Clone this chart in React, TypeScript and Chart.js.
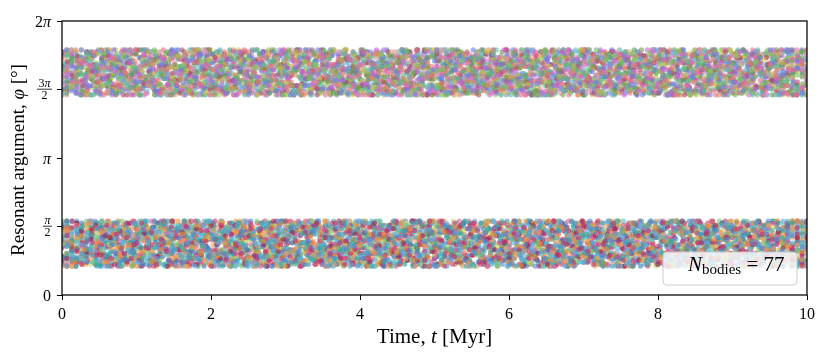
import React, { useEffect, useRef } from "react";
import { Chart, registerables } from "chart.js";

Chart.register(...registerables);

// ---- axis data ----
const X_TICKS = [0, 2, 4, 6, 8, 10];
const Y_TICK_DEG = [0, 90, 180, 270, 360];
const Y_TICK_NUMERATORS = ["0", "π", "π", "3π", "2π"];
const Y_TICK_DENOMINATORS = ["", "2", "", "2", ""];
const T_START = 0;
const T_END = 10;
const N_BODIES = 77;

// ---- sampled resonant argument of each body: one letter per output, read as an offset (deg) from the band centre ----
const LEVEL_CHARS = "abcdefghijklmnopqrstuvwxyz";
const LEVEL_OFFSETS_DEG = [
  -29.5, -27, -24.15, -21.85, -19.55, -17.25, -14.95, -12.65, -10.35, -8.05, -5.75, -3.45, -1.15,
  1.15, 3.45, 5.75, 8.05, 10.35, 12.65, 14.95, 17.25, 19.55, 21.85, 24.15, 27, 29.5,
];
const UPPER_CENTER_DEG = 292.5;
const LOWER_CENTER_DEG = 67.5;

const UPPER_PHI = [
  "kqhhtcylapvfnjzdrwibougmxeskqodwjsbzgmuaqixeltcynhvkrfpuflyariocwngtzdkqbvjxmeshpcqjvnezsalxhpbugymdtkwfrioxkbrgumdzipatfwnjycqlveohsvicrmzfoatk",
  "owelcuipxgrjwepaslzgnucqxibtmfyodvkrhlzepthawncrjygoubkxfsmdviqqbuhymdskwfoazjtcnvglxperigvpamydtjrbowlfziucnsexkqhenyktbpiwrclzguoajxdsmhqvfhtcyl",
  "dzipatfwnjycqlveohsvicrmzfoatkxdqhynbujpewlsghtcylapvfnjzdrwibougmxeskqsanhykvdqmfzjbtowelcuipxgrodwjsbzgmuaqixeltcynhvkrfpuflyariocwngtzdkqbvjxmeshpcqjvnezsalxhpbu",
  "gmxeskqcqjvnezsalxhpbugymdtkwfrioqbuhymdskwfoazjtcnvglxperixkbrgumdzipatfwnjycqlveohsjwepaslzgnucqxibtmfyodvkrhlzepthawncrjygoubkxfsmdviqsanhykvdqmfzjbtowel",
  "jygoubkxfsmdviqenyktbpiwrclzguoajxdsmhqvfgvpamydtjrbowlfziucnsexkqhvicrmzfoatkxdqhynbujpewlsgsanhykvdqmfzjbtowelcuipxgrhtcylapvfnjzdrwibougmxeskqxkb",
  "vnezsalxhpbugymdtkwfrioodwjsbzgmuaqixeltcynhvkrfpuflyariocwngtzdkqbvjxmeshpjwepaslzgnucqxibtmfyodvkrhqbuhymdskwfoazjtcnvglxpericqjvnezsalxhpbugymdtkwfrioenyktbpiwrc",
  "meshpxkbrgumdzipatfwnjycqlveohslzepthawncrjygoubkxfsmdviqenyktbpiwrclzguoajxdsmhqvfvicrmzfoatkxdqhynbujpewlsggvpamydtjrbowlfziucnsexkqhodwjsbzgmuaqixelt",
  "xeltcynhvkrfpsanhykvdqmfzjbtowelcuipxgrhtcylapvfnjzdrwibougmxeskqcqjvnezsalxhpbugymdtkwfriojwepaslzgnucqxibtmfyodvkrhqbuhymdskwfoazjtcnvglxperiuflyari",
  "ydtjrbowlfziucnsexkqhuflyariocwngtzdkqbvjxmeshpvicrmzfoatkxdqhynbujpewlsgodwjsbzgmuaqixeltcynhvkrfpenyktbpiwrclzguoajxdsmhqvfxkbrgumdzipatfwnjycqlveohsqbuhymdskwfoazjtcnvgl",
  "ycqlveohslzepthawncrjygoubkxfsmdviqsanhykvdqmfzjbtowelcuipxgrgvpamydtjrbowlfziucnsexkqhhtcylapvfnjzdrwibougmxeskqjwepaslzgnucqxibtmfyodvkrhlzepth",
  "mfzjbtowelcuipxgrqbuhymdskwfoazjtcnvglxpericqjvnezsalxhpbugymdtkwfrioenyktbpiwrclzguoajxdsmhqvfuflyariocwngtzdkqbvjxmeshpvicrmzfoatkxdqhynbujpewlsggvpamydtjrbow",
  "qgvpamydtjrbowlfziucnsexkqhjwepaslzgnucqxibtmfyodvkrhxkbrgumdzipatfwnjycqlveohsodwjsbzgmuaqixeltcynhvkrfpsanhykvdqmfzjbtowelcuipxgrjwepaslzgnucqxibtmfyo",
  "tcylapvfnjzdrwibougmxeskqenyktbpiwrclzguoajxdsmhqvfodwjsbzgmuaqixeltcynhvkrfplzepthawncrjygoubkxfsmdviqcqjvnezsalxhpbugymdtkwfriohtcylapvfnjzdrwibougmxeskqsa",
  "dkqbvjxmeshpvicrmzfoatkxdqhynbujpewlsgqbuhymdskwfoazjtcnvglxperiuflyariocwngtzdkqbvjxmeshpgvpamydtjrbowlfziucnsexkqhxkbrgumdzipatfwnjycqlveohshtcylapvfnjzdrw",
  "dtkwfriojwepaslzgnucqxibtmfyodvkrhenyktbpiwrclzguoajxdsmhqvfsanhykvdqmfzjbtowelcuipxgrlzepthawncrjygoubkxfsmdviqodwjsbzgmuaqixeltcynhvkrfpvicrmzfoa",
  "aqixeltcynhvkrfphtcylapvfnjzdrwibougmxeskqxkbrgumdzipatfwnjycqlveohsqbuhymdskwfoazjtcnvglxperivicrmzfoatkxdqhynbujpewlsgcqjvnezsalxhpbugymdtkwfrioxkbrgumdzipat",
  "vkrhsanhykvdqmfzjbtowelcuipxgrgvpamydtjrbowlfziucnsexkqhuflyariocwngtzdkqbvjxmeshpxkbrgumdzipatfwnjycqlveohsenyktbpiwrclzguoajxdsmhqvfcqjvnezsalxhpbugym",
  "cnvglxpericqjvnezsalxhpbugymdtkwfriovicrmzfoatkxdqhynbujpewlsghtcylapvfnjzdrwibougmxeskqlzepthawncrjygoubkxfsmdviqgvpamydtjrbowlfziucnsexkqhuflya",
  "wrclzguoajxdsmhqvfodwjsbzgmuaqixeltcynhvkrfpjwepaslzgnucqxibtmfyodvkrhgvpamydtjrbowlfziucnsexkqhuflyariocwngtzdkqbvjxmeshpqbuhymdskwfoazjtcnvglxperienyktbp",
  "pewlsgxkbrgumdzipatfwnjycqlveohsuflyariocwngtzdkqbvjxmeshpjwepaslzgnucqxibtmfyodvkrhenyktbpiwrclzguoajxdsmhqvfsanhykvdqmfzjbtowelcuipxgrlzepthawncrjygoubkx",
  "drwibougmxeskqqbuhymdskwfoazjtcnvglxperilzepthawncrjygoubkxfsmdviqodwjsbzgmuaqixeltcynhvkrfphtcylapvfnjzdrwibougmxeskqvicrmzfoatkxdqhynbujpewlsggvpam",
  "lzgnucqxibtmfyodvkrhgvpamydtjrbowlfziucnsexkqhenyktbpiwrclzguoajxdsmhqvfcqjvnezsalxhpbugymdtkwfrioxkbrgumdzipatfwnjycqlveohsodwjsbzgmuaqixeltcynhvkrfpodw",
  "riuflyariocwngtzdkqbvjxmeshpsanhykvdqmfzjbtowelcuipxgrlzepthawncrjygoubkxfsmdviqqbuhymdskwfoazjtcnvglxperijwepaslzgnucqxibtmfyodvkrhvicrmzfoatkxdqhynbuj",
  "yktbpiwrclzguoajxdsmhqvfvicrmzfoatkxdqhynbujpewlsgcqjvnezsalxhpbugymdtkwfriogvpamydtjrbowlfziucnsexkqhsanhykvdqmfzjbtowelcuipxgruflyariocwngtzdkqbvjxmeshpjwepaslz",
  "qhynbujpewlsglzepthawncrjygoubkxfsmdviqhtcylapvfnjzdrwibougmxeskqxkbrgumdzipatfwnjycqlveohsenyktbpiwrclzguoajxdsmhqvfqbuhymdskwfoazjtcnvglxperisanhykvdqmf",
  "ipxgrenyktbpiwrclzguoajxdsmhqvfjwepaslzgnucqxibtmfyodvkrhhtcylapvfnjzdrwibougmxeskqcqjvnezsalxhpbugymdtkwfriolzepthawncrjygoubkxfsmdviqqbuhymdskwfoazj",
  "ucnsexkqhjwepaslzgnucqxibtmfyodvkrhodwjsbzgmuaqixeltcynhvkrfpvicrmzfoatkxdqhynbujpewlsggvpamydtjrbowlfziucnsexkqhhtcylapvfnjzdrwibougmxeskqxkbrgum",
  "sbzgmuaqixeltcynhvkrfpcqjvnezsalxhpbugymdtkwfrioxkbrgumdzipatfwnjycqlveohssanhykvdqmfzjbtowelcuipxgrqbuhymdskwfoazjtcnvglxperienyktbpiwrclzguoajxdsmhqvfhtcylapvf",
  "wngtzdkqbvjxmeshphtcylapvfnjzdrwibougmxeskqgvpamydtjrbowlfziucnsexkqhjwepaslzgnucqxibtmfyodvkrhlzepthawncrjygoubkxfsmdviqvicrmzfoatkxdqhynbujpewlsgcqjvnez",
  "gymdtkwfrioqbuhymdskwfoazjtcnvglxperiuflyariocwngtzdkqbvjxmeshpenyktbpiwrclzguoajxdsmhqvfodwjsbzgmuaqixeltcynhvkrfpsanhykvdqmfzjbtowelcuipxgrenyktbpiwrclzguoa",
  "ohsvicrmzfoatkxdqhynbujpewlsglzepthawncrjygoubkxfsmdviqcqjvnezsalxhpbugymdtkwfriojwepaslzgnucqxibtmfyodvkrhgvpamydtjrbowlfziucnsexkqhodwjsbzgmuaqixeltcyn",
  "awncrjygoubkxfsmdviqxkbrgumdzipatfwnjycqlveohsenyktbpiwrclzguoajxdsmhqvfhtcylapvfnjzdrwibougmxeskquflyariocwngtzdkqbvjxmeshpcqjvnezsalxhpbugymdtkwfriouflyariocwng",
  "qxibtmfyodvkrhodwjsbzgmuaqixeltcynhvkrfpqbuhymdskwfoazjtcnvglxperisanhykvdqmfzjbtowelcuipxgrvicrmzfoatkxdqhynbujpewlsgxkbrgumdzipatfwnjycqlveohslzep",
  "mdskwfoazjtcnvglxperisanhykvdqmfzjbtowelcuipxgrvicrmzfoatkxdqhynbujpewlsgqbuhymdskwfoazjtcnvglxperihtcylapvfnjzdrwibougmxeskqodwjsbzgmuaqixeltcynhvkrfpgvpamydtjrbowlf",
  "dsmhqvfgvpamydtjrbowlfziucnsexkqhcqjvnezsalxhpbugymdtkwfrioodwjsbzgmuaqixeltcynhvkrfpxkbrgumdzipatfwnjycqlveohsjwepaslzgnucqxibtmfyodvkrhjwepaslzgnucq",
  "kxdqhynbujpewlsguflyariocwngtzdkqbvjxmeshphtcylapvfnjzdrwibougmxeskqlzepthawncrjygoubkxfsmdviqenyktbpiwrclzguoajxdsmhqvfgvpamydtjrbowlfziucnsexkqhqbuhym",
  "bougmxeskqlzepthawncrjygoubkxfsmdviqjwepaslzgnucqxibtmfyodvkrhuflyariocwngtzdkqbvjxmeshpsanhykvdqmfzjbtowelcuipxgrqbuhymdskwfoazjtcnvglxperivicrmzfoatkxdq",
  "pamydtjrbowlfziucnsexkqhjwepaslzgnucqxibtmfyodvkrhxkbrgumdzipatfwnjycqlveohsgvpamydtjrbowlfziucnsexkqhcqjvnezsalxhpbugymdtkwfriouflyariocwngtzdkqbvjxmeshpsanhyk",
];

const LOWER_PHI = [
  "xmeshpgvpamydtjrbowlfziucnsexkqhhtcylapvfnjzdrwibougmxeskqlzepthawncrjygoubkxfsmdviqodwjsbzgmuaqixeltcynhvkrfpsanhykvdqmfzjbtowelcuipxgrenyktbpiwrclz",
  "drwibougmxeskqenyktbpiwrclzguoajxdsmhqvfvicrmzfoatkxdqhynbujpewlsgxkbrgumdzipatfwnjycqlveohsjwepaslzgnucqxibtmfyodvkrhuflyariocwngtzdkqbvjxmeshpodwjsbz",
  "awncrjygoubkxfsmdviqcqjvnezsalxhpbugymdtkwfriouflyariocwngtzdkqbvjxmeshpsanhykvdqmfzjbtowelcuipxgrhtcylapvfnjzdrwibougmxeskqqbuhymdskwfoazjtcnvglxperigvpamydtjrbowlfziu",
  "qhodwjsbzgmuaqixeltcynhvkrfplzepthawncrjygoubkxfsmdviqcqjvnezsalxhpbugymdtkwfrioxkbrgumdzipatfwnjycqlveohsvicrmzfoatkxdqhynbujpewlsgjwepaslzgnucqxibtm",
  "brgumdzipatfwnjycqlveohsjwepaslzgnucqxibtmfyodvkrhenyktbpiwrclzguoajxdsmhqvfgvpamydtjrbowlfziucnsexkqhuflyariocwngtzdkqbvjxmeshplzepthawncrjygoubkxfsmdviqsanh",
  "welcuipxgrqbuhymdskwfoazjtcnvglxperixkbrgumdzipatfwnjycqlveohshtcylapvfnjzdrwibougmxeskqcqjvnezsalxhpbugymdtkwfriogvpamydtjrbowlfziucnsexkqhvicrmzfoatkxdqhy",
  "muaqixeltcynhvkrfpvicrmzfoatkxdqhynbujpewlsgsanhykvdqmfzjbtowelcuipxgrjwepaslzgnucqxibtmfyodvkrhlzepthawncrjygoubkxfsmdviqodwjsbzgmuaqixeltcynhvkrfpxkbrgumdz",
  "friouflyariocwngtzdkqbvjxmeshpgvpamydtjrbowlfziucnsexkqhenyktbpiwrclzguoajxdsmhqvfsanhykvdqmfzjbtowelcuipxgrhtcylapvfnjzdrwibougmxeskqcqjvnezsalxhpbugymdt",
  "lapvfnjzdrwibougmxeskqxkbrgumdzipatfwnjycqlveohscqjvnezsalxhpbugymdtkwfrioqbuhymdskwfoazjtcnvglxperivicrmzfoatkxdqhynbujpewlsgjwepaslzgnucqxibtmfyodvkrhhtcyla",
  "bvjxmeshpsanhykvdqmfzjbtowelcuipxgrhtcylapvfnjzdrwibougmxeskqodwjsbzgmuaqixeltcynhvkrfpenyktbpiwrclzguoajxdsmhqvfxkbrgumdzipatfwnjycqlveohsqbuhymdskwfo",
  "smdviqcqjvnezsalxhpbugymdtkwfriojwepaslzgnucqxibtmfyodvkrhvicrmzfoatkxdqhynbujpewlsggvpamydtjrbowlfziucnsexkqhqbuhymdskwfoazjtcnvglxperilzepthawncrjyg",
  "fwnjycqlveohsenyktbpiwrclzguoajxdsmhqvfuflyariocwngtzdkqbvjxmeshpxkbrgumdzipatfwnjycqlveohsqbuhymdskwfoazjtcnvglxperisanhykvdqmfzjbtowelcuipxgruflyariocw",
  "rbowlfziucnsexkqhlzepthawncrjygoubkxfsmdviqodwjsbzgmuaqixeltcynhvkrfphtcylapvfnjzdrwibougmxeskqjwepaslzgnucqxibtmfyodvkrhcqjvnezsalxhpbugymdtkwfrioenyk",
  "pxgrhtcylapvfnjzdrwibougmxeskqqbuhymdskwfoazjtcnvglxperiuflyariocwngtzdkqbvjxmeshpxkbrgumdzipatfwnjycqlveohsenyktbpiwrclzguoajxdsmhqvfgvpamydtjrb",
  "nhvkrfpvicrmzfoatkxdqhynbujpewlsggvpamydtjrbowlfziucnsexkqhlzepthawncrjygoubkxfsmdviqcqjvnezsalxhpbugymdtkwfrioodwjsbzgmuaqixeltcynhvkrfpjwepaslzgnucqxibtmfyodv",
  "salxhpbugymdtkwfriojwepaslzgnucqxibtmfyodvkrhxkbrgumdzipatfwnjycqlveohsenyktbpiwrclzguoajxdsmhqvfhtcylapvfnjzdrwibougmxeskqgvpamydtjrbowlfziucnsexkqhodwjsbzgmu",
  "fyodvkrhuflyariocwngtzdkqbvjxmeshpvicrmzfoatkxdqhynbujpewlsgsanhykvdqmfzjbtowelcuipxgrodwjsbzgmuaqixeltcynhvkrfplzepthawncrjygoubkxfsmdviqxkbrgumdzipatfwnj",
  "oazjtcnvglxperigvpamydtjrbowlfziucnsexkqhlzepthawncrjygoubkxfsmdviqjwepaslzgnucqxibtmfyodvkrhenyktbpiwrclzguoajxdsmhqvfhtcylapvfnjzdrwibougmxeskqcq",
  "qvfqbuhymdskwfoazjtcnvglxperiodwjsbzgmuaqixeltcynhvkrfpcqjvnezsalxhpbugymdtkwfriosanhykvdqmfzjbtowelcuipxgrvicrmzfoatkxdqhynbujpewlsghtcylapvfnjzdrwibo",
  "zfoatkxdqhynbujpewlsgxkbrgumdzipatfwnjycqlveohssanhykvdqmfzjbtowelcuipxgruflyariocwngtzdkqbvjxmeshpjwepaslzgnucqxibtmfyodvkrhcqjvnezsalxhpbugymdtkwfriolzepthawn",
  "xeskqenyktbpiwrclzguoajxdsmhqvfcqjvnezsalxhpbugymdtkwfriolzepthawncrjygoubkxfsmdviqvicrmzfoatkxdqhynbujpewlsguflyariocwngtzdkqbvjxmeshpqbuhymdskwfoazjtcn",
  "ltcynhvkrfphtcylapvfnjzdrwibougmxeskqjwepaslzgnucqxibtmfyodvkrhqbuhymdskwfoazjtcnvglxperigvpamydtjrbowlfziucnsexkqhxkbrgumdzipatfwnjycqlveohssanhykvdq",
  "yariocwngtzdkqbvjxmeshpsanhykvdqmfzjbtowelcuipxgrenyktbpiwrclzguoajxdsmhqvfodwjsbzgmuaqixeltcynhvkrfpqbuhymdskwfoazjtcnvglxperigvpamydtjrbowlfziucnsexkqhvicrmz",
  "olzepthawncrjygoubkxfsmdviqvicrmzfoatkxdqhynbujpewlsghtcylapvfnjzdrwibougmxeskquflyariocwngtzdkqbvjxmeshpjwepaslzgnucqxibtmfyodvkrhenyktbpiwrclzguoajxd",
  "patfwnjycqlveohsodwjsbzgmuaqixeltcynhvkrfpgvpamydtjrbowlfziucnsexkqhsanhykvdqmfzjbtowelcuipxgrxkbrgumdzipatfwnjycqlveohsenyktbpiwrclzguoajxdsmhqvfuflyariocwngtzd",
  "kxfsmdviqvicrmzfoatkxdqhynbujpewlsghtcylapvfnjzdrwibougmxeskqjwepaslzgnucqxibtmfyodvkrhcqjvnezsalxhpbugymdtkwfriosanhykvdqmfzjbtowelcuipxgrgvpamyd",
  "vdqmfzjbtowelcuipxgrcqjvnezsalxhpbugymdtkwfrioqbuhymdskwfoazjtcnvglxperigvpamydtjrbowlfziucnsexkqhlzepthawncrjygoubkxfsmdviqhtcylapvfnjzdrwibougmxeskqjwep",
  "fziucnsexkqhjwepaslzgnucqxibtmfyodvkrhuflyariocwngtzdkqbvjxmeshpxkbrgumdzipatfwnjycqlveohsodwjsbzgmuaqixeltcynhvkrfpvicrmzfoatkxdqhynbujpewlsghtcylapvfnjz",
  "wepaslzgnucqxibtmfyodvkrhgvpamydtjrbowlfziucnsexkqhsanhykvdqmfzjbtowelcuipxgrenyktbpiwrclzguoajxdsmhqvfhtcylapvfnjzdrwibougmxeskqqbuhymdskwfoazjtcnvglxpericqjvnezsa",
  "lxperiuflyariocwngtzdkqbvjxmeshplzepthawncrjygoubkxfsmdviqodwjsbzgmuaqixeltcynhvkrfpvicrmzfoatkxdqhynbujpewlsgcqjvnezsalxhpbugymdtkwfrioxkbrgumdzipatfwnjyc",
  "uoajxdsmhqvfxkbrgumdzipatfwnjycqlveohshtcylapvfnjzdrwibougmxeskqcqjvnezsalxhpbugymdtkwfrioenyktbpiwrclzguoajxdsmhqvfgvpamydtjrbowlfziucnsexkqhlzept",
  "bujpewlsgqbuhymdskwfoazjtcnvglxperijwepaslzgnucqxibtmfyodvkrhlzepthawncrjygoubkxfsmdviquflyariocwngtzdkqbvjxmeshpsanhykvdqmfzjbtowelcuipxgrodwjsbzgmuaqix",
  "fnjzdrwibougmxeskqenyktbpiwrclzguoajxdsmhqvfxkbrgumdzipatfwnjycqlveohsvicrmzfoatkxdqhynbujpewlsgsanhykvdqmfzjbtowelcuipxgrodwjsbzgmuaqixeltcynhvkrfpvicr",
  "rfpcqjvnezsalxhpbugymdtkwfriosanhykvdqmfzjbtowelcuipxgrhtcylapvfnjzdrwibougmxeskqgvpamydtjrbowlfziucnsexkqhjwepaslzgnucqxibtmfyodvkrhenyktbpiwrclzgu",
  "tzdkqbvjxmeshplzepthawncrjygoubkxfsmdviqenyktbpiwrclzguoajxdsmhqvfqbuhymdskwfoazjtcnvglxperijwepaslzgnucqxibtmfyodvkrhxkbrgumdzipatfwnjycqlveohssanhykvdqmfzjbt",
  "ezsalxhpbugymdtkwfriovicrmzfoatkxdqhynbujpewlsgodwjsbzgmuaqixeltcynhvkrfpuflyariocwngtzdkqbvjxmeshplzepthawncrjygoubkxfsmdviqhtcylapvfnjzdrwibougmxeskqqbuhymdsk",
  "qlveohssanhykvdqmfzjbtowelcuipxgrcqjvnezsalxhpbugymdtkwfriojwepaslzgnucqxibtmfyodvkrhqbuhymdskwfoazjtcnvglxperiuflyariocwngtzdkqbvjxmeshpgvpamydtjrbowlfziucns",
  "crjygoubkxfsmdviqhtcylapvfnjzdrwibougmxeskqgvpamydtjrbowlfziucnsexkqhvicrmzfoatkxdqhynbujpewlsgxkbrgumdzipatfwnjycqlveohsenyktbpiwrclzguoajxdsmhqvfcqjvnezsal",
  "grodwjsbzgmuaqixeltcynhvkrfpxkbrgumdzipatfwnjycqlveohsgvpamydtjrbowlfziucnsexkqhjwepaslzgnucqxibtmfyodvkrhcqjvnezsalxhpbugymdtkwfriouflyariocwngtzdkqbvj",
];

const UPPER_COLORS = [
  "#e8708a", "#6abf69", "#6f7fe0", "#c966d6", "#a4c45a", "#de8a63", "#5bb7a6", "#a8587e",
  "#7d9a44", "#8c6cd4", "#e39ac0", "#4d9f6e", "#d6c552", "#6e95e3", "#b0455e", "#66c1d4",
];
const LOWER_COLORS = [
  "#4e8fd1", "#c3306d", "#e8913b", "#3fb1a1", "#63b2e3", "#9e2050", "#f2a35f", "#2ea2b3",
  "#6b9fc9", "#d44282", "#7ec27d", "#3d7dbd", "#e0648f", "#52c2c2", "#b38232", "#c9dc6a",
];
const POINT_ALPHA = 0.6;
const POINT_RADIUS = 2.6;

const SERIF = '"Liberation Serif", "DejaVu Serif", serif';

function withAlpha(hex: string, a: number) {
  const r = parseInt(hex.slice(1, 3), 16);
  const g = parseInt(hex.slice(3, 5), 16);
  const b = parseInt(hex.slice(5, 7), 16);
  return `rgba(${r},${g},${b},${a})`;
}

function bodyPoints(code: string, center: number) {
  const n = code.length;
  const pts: { x: number; y: number }[] = [];
  for (let k = 0; k < n; k++) {
    const lvl = LEVEL_CHARS.indexOf(code[k]);
    pts.push({
      x: T_START + ((T_END - T_START) * k) / (n - 1),
      y: center + LEVEL_OFFSETS_DEG[lvl],
    });
  }
  return pts;
}

type Run = { t: string; font: string; dy?: number };

function drawRuns(ctx: CanvasRenderingContext2D, runs: Run[], x: number, y: number, align: "left" | "center" | "right") {
  let total = 0;
  for (const r of runs) {
    ctx.font = r.font;
    total += ctx.measureText(r.t).width;
  }
  let cx = align === "left" ? x : align === "center" ? x - total / 2 : x - total;
  ctx.textAlign = "left";
  for (const r of runs) {
    ctx.font = r.font;
    ctx.fillText(r.t, cx, y + (r.dy || 0));
    cx += ctx.measureText(r.t).width;
  }
  return total;
}

function mathRuns(text: string, size: number): Run[] {
  const runs: Run[] = [];
  for (const ch of text) {
    const italic = ch === "π";
    runs.push({ t: ch, font: `${italic ? "italic " : ""}${size}px ${SERIF}` });
  }
  return runs;
}

const decorPlugin = {
  id: "decor",
  afterDatasetsDraw(chart: any) {
    const ctx: CanvasRenderingContext2D = chart.ctx;
    const { left, right, top, bottom } = chart.chartArea;
    ctx.save();
    ctx.strokeStyle = "#000";
    ctx.lineWidth = 1.25;
    ctx.strokeRect(left, top, right - left, bottom - top);
    ctx.restore();
  },
  afterDraw(chart: any) {
    const ctx: CanvasRenderingContext2D = chart.ctx;
    const xs = chart.scales.x;
    const ys = chart.scales.y;
    const { left, right, bottom } = chart.chartArea;
    ctx.save();
    ctx.fillStyle = "#000";
    ctx.textBaseline = "alphabetic";

    for (const v of X_TICKS) {
      drawRuns(ctx, [{ t: String(v), font: `16px ${SERIF}` }], xs.getPixelForValue(v), bottom + 24, "center");
    }

    Y_TICK_DEG.forEach((v, i) => {
      const py = ys.getPixelForValue(v);
      const num = Y_TICK_NUMERATORS[i];
      const den = Y_TICK_DENOMINATORS[i];
      if (!den) {
        drawRuns(ctx, mathRuns(num, 16), left - 11, py + 5.5, "right");
      } else {
        const fs = 12;
        let nw = 0;
        for (const r of mathRuns(num, fs)) {
          ctx.font = r.font;
          nw += ctx.measureText(r.t).width;
        }
        ctx.font = `${fs}px ${SERIF}`;
        const dw = ctx.measureText(den).width;
        const bw = Math.max(nw, dw) + 3;
        const cx = left - 10 - bw / 2;
        drawRuns(ctx, mathRuns(num, fs), cx, py - 2.5, "center");
        ctx.strokeStyle = "#000";
        ctx.lineWidth = 0.8;
        ctx.beginPath();
        ctx.moveTo(cx - bw / 2, py - 0.3);
        ctx.lineTo(cx + bw / 2, py - 0.3);
        ctx.stroke();
        drawRuns(ctx, [{ t: den, font: `${fs}px ${SERIF}` }], cx, py + 9, "center");
      }
    });

    drawRuns(
      ctx,
      [
        { t: "Time, ", font: `21px ${SERIF}` },
        { t: "t", font: `italic 21px ${SERIF}` },
        { t: " [Myr]", font: `21px ${SERIF}` },
      ],
      (left + right) / 2,
      343,
      "center"
    );

    ctx.save();
    ctx.translate(23.5, 160);
    ctx.rotate(-Math.PI / 2);
    drawRuns(
      ctx,
      [
        { t: "Resonant argument, ", font: `19px ${SERIF}` },
        { t: "φ", font: `italic 19px ${SERIF}` },
        { t: " [°]", font: `19px ${SERIF}` },
      ],
      0,
      0,
      "center"
    );
    ctx.restore();

    const bx = 663, by = 252, bw2 = 134, bh = 33, rr = 4;
    ctx.beginPath();
    ctx.moveTo(bx + rr, by);
    ctx.lineTo(bx + bw2 - rr, by);
    ctx.quadraticCurveTo(bx + bw2, by, bx + bw2, by + rr);
    ctx.lineTo(bx + bw2, by + bh - rr);
    ctx.quadraticCurveTo(bx + bw2, by + bh, bx + bw2 - rr, by + bh);
    ctx.lineTo(bx + rr, by + bh);
    ctx.quadraticCurveTo(bx, by + bh, bx, by + bh - rr);
    ctx.lineTo(bx, by + rr);
    ctx.quadraticCurveTo(bx, by, bx + rr, by);
    ctx.closePath();
    ctx.fillStyle = "rgba(255,255,255,0.8)";
    ctx.fill();
    ctx.strokeStyle = "#cccccc";
    ctx.lineWidth = 1;
    ctx.stroke();
    ctx.fillStyle = "#000";
    drawRuns(
      ctx,
      [
        { t: "N", font: `italic 21px ${SERIF}` },
        { t: "bodies", font: `15px ${SERIF}`, dy: 3 },
        { t: " = " + String(N_BODIES), font: `21px ${SERIF}` },
      ],
      688,
      271,
      "left"
    );
    ctx.restore();
  },
};

export default function App() {
  const ref = useRef<HTMLCanvasElement>(null);
  useEffect(() => {
    const canvas = ref.current!;
    const datasets: any[] = [];
    UPPER_PHI.forEach((code, i) => {
      datasets.push({
        label: `upper body ${i + 1}`,
        data: bodyPoints(code, UPPER_CENTER_DEG),
        backgroundColor: withAlpha(UPPER_COLORS[i % UPPER_COLORS.length], POINT_ALPHA),
        borderWidth: 0,
        pointRadius: POINT_RADIUS,
        clip: 0,
      });
    });
    LOWER_PHI.forEach((code, i) => {
      datasets.push({
        label: `lower body ${i + 1}`,
        data: bodyPoints(code, LOWER_CENTER_DEG),
        backgroundColor: withAlpha(LOWER_COLORS[i % LOWER_COLORS.length], POINT_ALPHA),
        borderWidth: 0,
        pointRadius: POINT_RADIUS,
        clip: 0,
      });
    });
    const chart = new Chart(canvas, {
      type: "scatter",
      data: { datasets },
      options: {
        responsive: false,
        animation: false,
        devicePixelRatio: 1,
        events: [],
        layout: { padding: { left: 0, right: 23, top: 21, bottom: 0 } },
        plugins: { legend: { display: false }, tooltip: { enabled: false } },
        scales: {
          x: {
            type: "linear",
            min: T_START,
            max: T_END,
            ticks: { stepSize: 2, color: "rgba(0,0,0,0)", font: { size: 16 } },
            grid: { display: true, drawOnChartArea: false, drawTicks: true, tickLength: 5, color: "#000", lineWidth: 1 },
            border: { display: false },
            afterFit: (s: any) => {
              s.height = 61;
            },
          },
          y: {
            type: "linear",
            min: 0,
            max: 360,
            ticks: { stepSize: 90, color: "rgba(0,0,0,0)", font: { size: 16 } },
            grid: { display: true, drawOnChartArea: false, drawTicks: true, tickLength: 5, color: "#000", lineWidth: 1 },
            border: { display: false },
            afterFit: (s: any) => {
              s.width = 62;
            },
          },
        },
      } as any,
      plugins: [decorPlugin],
    });
    return () => chart.destroy();
  }, []);
  return (
    <div style={{ position: "absolute", left: 0, top: 0, width: 830, height: 356 }}>
      <canvas ref={ref} width={830} height={356} style={{ display: "block", width: 830, height: 356 }} />
    </div>
  );
}
